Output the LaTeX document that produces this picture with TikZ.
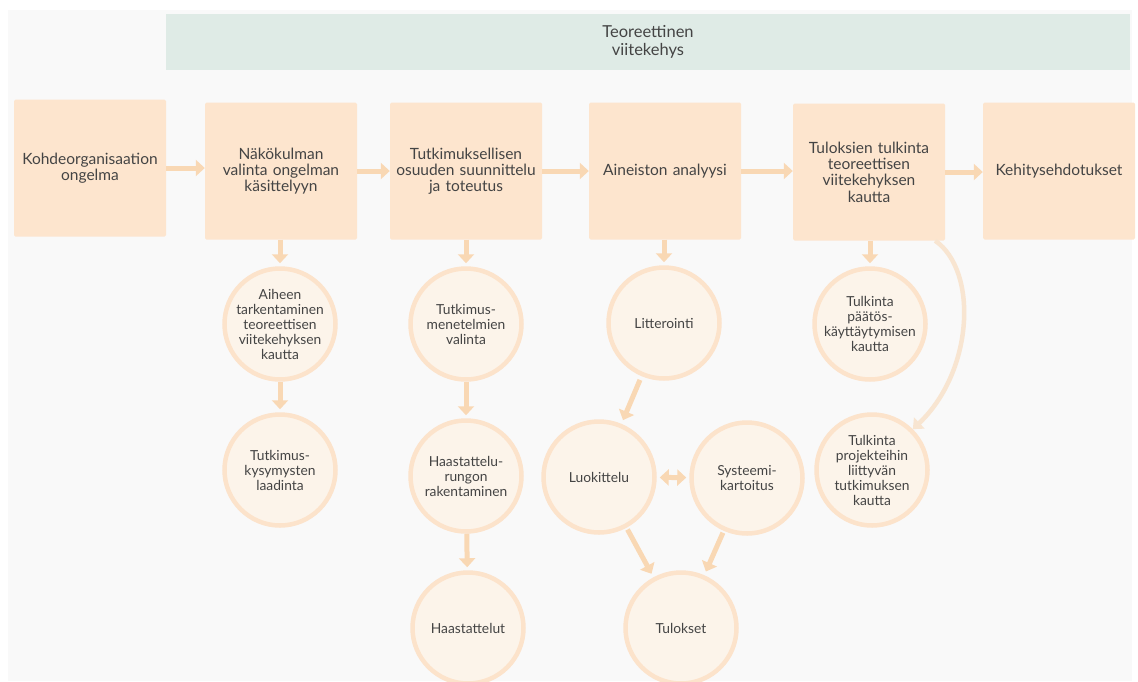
\documentclass[tikz,border=0pt]{standalone}
\usepackage{fontspec}
\setmainfont{Lato}
\usetikzlibrary{arrows.meta}
\definecolor{bg-gray}{HTML}{F9F9F9}
\definecolor{frame-green}{HTML}{DFEBE6}
\definecolor{box-peach}{HTML}{FDE5CE}
\definecolor{ring-peach}{HTML}{FCE3CB}
\definecolor{circle-cream}{HTML}{FCF4EA}
\definecolor{arrow-peach}{HTML}{F9D8B4}
\definecolor{curve-peach}{HTML}{F8E5D1}
\definecolor{text-gray}{HTML}{444444}
\tikzset{
    frame-bar/.style = {fill=frame-green, rectangle, minimum width=964pt, minimum height=56pt, align=center, text=text-gray, font=\fontsize{16.5}{18}\selectfont},
    step-box/.style = {fill=box-peach, rectangle, rounded corners=1.5pt, minimum width=152pt, minimum height=137pt, text width=148pt, inner xsep=2pt, align=center, text=text-gray, font=\fontsize{15.5}{16.3}\selectfont},
    phase-circle/.style = {draw=ring-peach, fill=circle-cream, line width=4.5pt, circle, minimum size=111pt, inner sep=-3pt, text width=96pt, align=center, text=text-gray, font=\fontsize{13.8}{15}\selectfont},
    flow-arrow/.style = {draw=arrow-peach, line width=5pt, -{Triangle[width=16pt,length=9pt]}, shorten >=3pt},
}

\begin{document}
\begin{tikzpicture}[x=1pt, y=-1pt]
\useasboundingbox (0,0) rectangle (1138,681);
\fill[bg-gray] (8,10) rectangle (1132,681);

% top frame
\node[frame-bar] (frame) at (648,42) {Teoreettinen\\viitekehys};

% main phases
\node[step-box] (problem)  at (90,168)   {Kohdeorganisaation\\ongelma};
\node[step-box] (viewpoint) at (281,171) {Näkökulman\\valinta ongelman\\käsittelyyn};
\node[step-box] (research) at (466,171)  {Tutkimuksellisen\\osuuden suunnittelu\\ja toteutus};
\node[step-box] (analysis) at (665,171)  {Aineiston analyysi};
\node[step-box] (interpret) at (869,172) {Tuloksien tulkinta\\teoreettisen\\viitekehyksen\\kautta};
\node[step-box] (proposals) at (1059,171) {Kehitysehdotukset};

\foreach \from/\to in {problem/viewpoint, viewpoint/research, research/analysis, analysis/interpret, interpret/proposals}
    \draw[flow-arrow, shorten >=0pt] (\from.east) -- (\from.east -| \to.west);

% sub steps
\node[phase-circle] (topic)    at (280,324) {Aiheen\\tarkentaminen\\teoreettisen\\viitekehyksen\\kautta};
\node[phase-circle] (questions) at (280,470) {Tutkimus-\\kysymysten\\laadinta};
\node[phase-circle] (methods)  at (466,324) {Tutkimus-\\menetelmien\\valinta};
\node[phase-circle] (frameint) at (466,476) {Haastattelu-\\rungon\\rakentaminen};
\node[phase-circle] (interviews) at (468,628) {Haastattelut};
\node[phase-circle] (transcr)  at (664,323) {Litterointi};
\node[phase-circle] (classify) at (599,477) {Luokittelu};
\node[phase-circle] (sysmap)   at (747,478) {Systeemi-\\kartoitus};
\node[phase-circle] (results)  at (681,628) {Tulokset};
\node[phase-circle] (decision) at (870,324) {Tulkinta\\päätös-\\käyttäytymisen\\kautta};
\node[phase-circle] (projects) at (872,470) {Tulkinta\\projekteihin\\liittyvän\\tutkimuksen\\kautta};

\draw[flow-arrow] (viewpoint.south -| topic) -- (topic);
\draw[flow-arrow] (topic) -- (questions);
\draw[flow-arrow] (research.south -| methods) -- (methods);
\draw[flow-arrow] (methods) -- (frameint);
\draw[flow-arrow] (frameint) -- (interviews);
\draw[flow-arrow] (analysis.south -| transcr) -- (transcr);
\draw[flow-arrow, shorten <=4pt, shorten >=4pt] (transcr) -- (classify);
\draw[flow-arrow, shorten <=2pt, shorten >=4pt] (classify) -- (results);
\draw[flow-arrow, shorten <=2pt, shorten >=4pt] (sysmap) -- (results);
\draw[flow-arrow, {Triangle[width=16pt,length=9pt]}-{Triangle[width=16pt,length=9pt]}, shorten <=3pt] (classify) -- (sysmap);
\draw[flow-arrow] (interpret.south -| decision) -- (decision);
\draw[draw=curve-peach, line width=4.5pt, -{Triangle[width=15pt,length=9pt]}]
    ([xshift=-10pt]interpret.south east) .. controls +(43,30) and +(61,-58) .. (projects.45);
\end{tikzpicture}
\end{document}
